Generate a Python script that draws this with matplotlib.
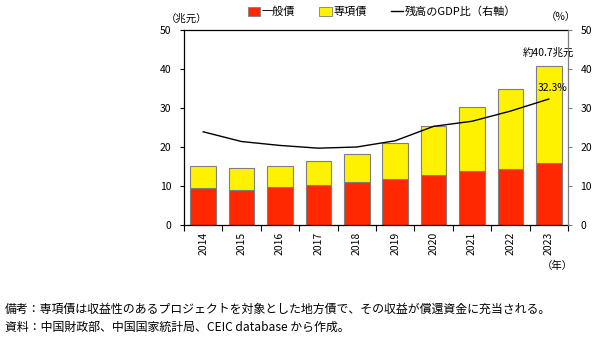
import numpy as np
import matplotlib.pyplot as plt
from matplotlib.patches import Patch
from matplotlib.lines import Line2D

plt.rcParams['font.family'] = ['Noto Sans CJK JP', 'DejaVu Sans']

years = ["2014", "2015", "2016", "2017", "2018", "2019", "2020", "2021", "2022", "2023"]
general = [9.4, 9.1, 9.7, 10.2, 10.9, 11.7, 12.8, 13.8, 14.3, 15.8]
special = [5.8, 5.6, 5.5, 6.3, 7.4, 9.4, 12.6, 16.5, 20.6, 24.9]
gdp_ratio = [23.9, 21.4, 20.4, 19.7, 20.0, 21.6, 25.3, 26.6, 29.2, 32.3]

red = "#ff2800"
yellow = "#fff200"
edge = "#7f7f7f"

fig = plt.figure(figsize=(6.0, 3.43), dpi=100)
ax = fig.add_axes([184 / 600, 1 - 225 / 343, 384 / 600, 195 / 343])
x = np.arange(len(years))

ax.bar(x, general, width=0.67, color=red, edgecolor=edge, linewidth=0.8, zorder=2)
ax.bar(x, special, width=0.67, bottom=general, color=yellow, edgecolor=edge,
       linewidth=0.8, zorder=2)

ax.set_xlim(-0.5, len(years) - 0.5)
ax.set_ylim(0, 50)
ax.set_yticks(range(0, 51, 10))
ax.tick_params(axis='y', labelsize=7.5, length=3, width=0.8, pad=6)

# category ticks sit between the bars, labels rotated under each bar
ax.set_xticks(np.arange(-0.5, len(years), 1.0))
ax.set_xticklabels([])
ax.tick_params(axis='x', which='major', length=4, width=0.8, direction='out')
ax.set_xticks(x, minor=True)
ax.set_xticklabels(years, minor=True, rotation=90, fontsize=7.5)
ax.tick_params(axis='x', which='minor', length=0, pad=5)

for s in ['left', 'top', 'bottom']:
    ax.spines[s].set_linewidth(0.9)
ax.spines['right'].set_visible(False)

ax2 = ax.twinx()
ax2.plot(x, gdp_ratio, color="black", linewidth=1.0, zorder=3)
ax2.set_ylim(0, 50)
ax2.set_yticks(range(0, 51, 10))
ax2.tick_params(axis='y', labelsize=7.5, length=3, width=0.8, color=edge, pad=6)
ax2.spines['right'].set_color(edge)
ax2.spines['right'].set_linewidth(0.9)
for s in ['left', 'top', 'bottom']:
    ax2.spines[s].set_visible(False)

ax2.text(x[-1] + 0.1, gdp_ratio[-1] + 1.6, f"{gdp_ratio[-1]}%", fontsize=7.5,
         ha='center', va='bottom')
total_last = general[-1] + special[-1]
ax.text(x[-1], total_last + 2.2, f"約{total_last:.1f}兆元", fontsize=7.5,
        ha='center', va='bottom')

fig.text(187 / 600, 1 - 19 / 343, "（兆元）", fontsize=7.5, ha='center', va='center')
fig.text(561 / 600, 1 - 17 / 343, "（%）", fontsize=7.5, ha='center', va='center')
fig.text(557 / 600, 1 - 266 / 343, "（年）", fontsize=7.5, ha='center', va='center')

handles = [Patch(facecolor=red, edgecolor=edge, linewidth=0.6),
           Patch(facecolor=yellow, edgecolor=edge, linewidth=0.6),
           Line2D([0], [0], color="black", linewidth=1.0)]
labels = ["一般債", "専項債", "残高のGDP比（右軸）"]
fig.legend(handles, labels, loc='center', bbox_to_anchor=(382 / 600, 1 - 12 / 343),
           ncol=3, frameon=False, fontsize=8, handlelength=1.1, handleheight=0.8,
           handletextpad=0.15, columnspacing=2.2)

fig.text(0.008, 1 - 309 / 343,
         "備考：専項債は収益性のあるプロジェクトを対象とした地方債で、その収益が償還資金に充当される。",
         fontsize=8.6, ha='left', va='center')
fig.text(0.008, 1 - 327 / 343,
         "資料：中国財政部、中国国家統計局、CEIC database から作成。",
         fontsize=8.6, ha='left', va='center')

fig.savefig("out.png", dpi=100)
